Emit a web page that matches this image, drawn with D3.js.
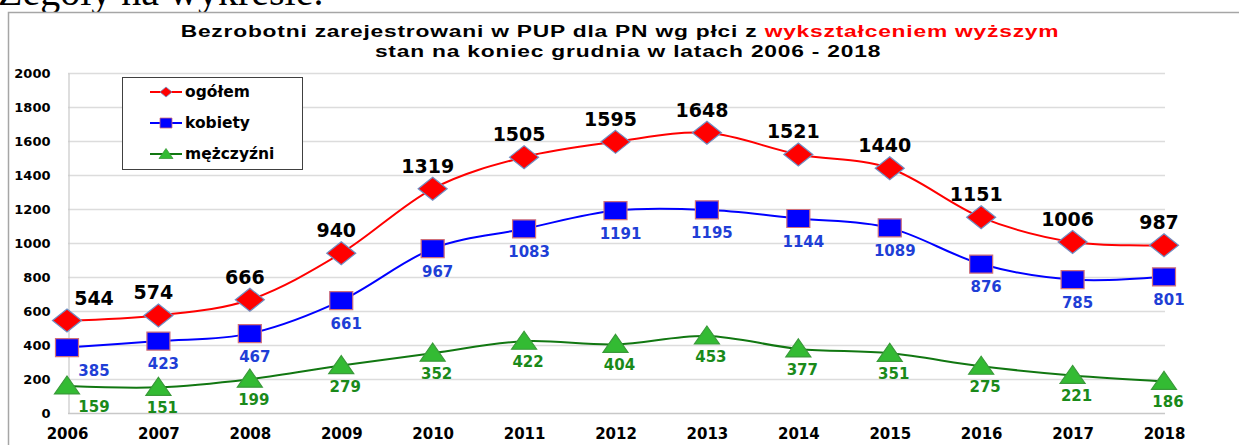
<!DOCTYPE html>
<html>
<head>
<meta charset="utf-8">
<script src="https://cdn.jsdelivr.net/npm/d3@7"></script>
<style>
  body { margin: 0; background: #fff; }
  svg { display: block; }
</style>
</head>
<body>
<svg id="chart" width="1239" height="445"></svg>
<script>
// data
const years = ['2006', '2007', '2008', '2009', '2010', '2011', '2012', '2013', '2014', '2015', '2016', '2017', '2018'];
const ogolem = [544, 574, 666, 940, 1319, 1505, 1595, 1648, 1521, 1440, 1151, 1006, 987];
const kobiety = [385, 423, 467, 661, 967, 1083, 1191, 1195, 1144, 1089, 876, 785, 801];
const mezczyzni = [159, 151, 199, 279, 352, 422, 404, 453, 377, 351, 275, 221, 186];
const yTicks = [0, 200, 400, 600, 800, 1000, 1200, 1400, 1600, 1800, 2000];
const seriesNames = ['ogółem', 'kobiety', 'mężczyźni'];

const width = 1239;
const height = 445;
const plot = { left: 67, right: 1165, top: 73, bottom: 413 };
const numFont = '"DejaVu Sans", Verdana, sans-serif';

const svg = d3.select('#chart');

// clipped text of the page above the chart
svg.append('text')
  .attr('x', -2)
  .attr('y', 5)
  .attr('font-family', '"Liberation Serif", "Times New Roman", serif')
  .attr('font-size', 40)
  .attr('fill', '#000')
  .text('Zegoły na wykresie.');

// outer chart frame (runs off the right and bottom edges)
svg.append('rect')
  .attr('x', 8.5)
  .attr('y', 12.5)
  .attr('width', 1300)
  .attr('height', 500)
  .attr('fill', '#fff')
  .attr('stroke', '#a6a6a6')
  .attr('stroke-width', 1.5);

const x = d3.scalePoint()
  .domain(years)
  .range([plot.left, plot.right - 1])
  .padding(0);

const y = d3.scaleLinear()
  .domain([0, 2000])
  .range([plot.bottom, plot.top]);

// title, stretched sideways like the source picture
const title = svg.append('text')
  .attr('transform', 'translate(620,0) scale(1.34,1)')
  .attr('text-anchor', 'middle')
  .attr('font-family', '"Liberation Sans", Arial, sans-serif')
  .attr('font-weight', 'bold')
  .attr('font-size', 17)
  .attr('letter-spacing', 0.6);
const t1 = title.append('tspan').attr('x', 0).attr('y', 37);
t1.append('tspan').attr('fill', '#000').text('Bezrobotni zarejestrowani w PUP dla PN wg płci z ');
t1.append('tspan').attr('fill', '#ff0000').text('wykształceniem wyższym');
title.append('tspan').attr('x', 6).attr('y', 57).attr('fill', '#000')
  .text('stan na koniec grudnia w latach 2006 - 2018');

// gridlines
svg.append('g')
  .selectAll('line')
  .data(yTicks)
  .join('line')
  .attr('x1', plot.left + 1)
  .attr('x2', plot.right)
  .attr('y1', d => Math.round(y(d)) + 0.5)
  .attr('y2', d => Math.round(y(d)) + 0.5)
  .attr('stroke', d => d === 0 ? '#c8c8c8' : '#dcdcdc')
  .attr('stroke-width', 1.5);

// y axis
const yAxisGroup = svg.append('g')
  .attr('transform', 'translate(' + (plot.left + 1.5) + ',0)');
const yAxis = d3.axisLeft(y)
  .tickValues(yTicks)
  .tickFormat(d3.format('d'))
  .tickSize(0)
  .tickPadding(18);
yAxis(yAxisGroup);
yAxisGroup.select('.domain').attr('stroke', '#c8c8c8').attr('stroke-width', 1.2);
yAxisGroup.selectAll('text')
  .attr('font-family', numFont)
  .attr('font-weight', 'bold')
  .attr('font-size', 13)
  .attr('fill', '#000');

// x axis labels
const xAxisGroup = svg.append('g')
  .attr('transform', 'translate(0,' + plot.bottom + ')');
const xAxis = d3.axisBottom(x).tickSize(0).tickPadding(15);
xAxis(xAxisGroup);
xAxisGroup.select('.domain').remove();
xAxisGroup.selectAll('text')
  .attr('font-family', numFont)
  .attr('font-weight', 'bold')
  .attr('font-size', 15)
  .attr('fill', '#000');

const line = d3.line()
  .x((d, i) => x(years[i]))
  .y(d => y(d))
  .curve(d3.curveCatmullRom.alpha(0));

const diamond = 'M0,-11.5L14.5,0L0,11.5L-14.5,0Z';
const square = 'M-11.5,-9L11.5,-9L11.5,9L-11.5,9Z';
const triangle = 'M0,-10L12.5,8L-12.5,8Z';

const series = [
  { name: seriesNames[0], values: ogolem, color: '#ff0000', shape: diamond, fill: '#ff0000', stroke: '#6f8fc4',
    labelColor: '#000', labelSize: 19, dy: -16, dx: -5 },
  { name: seriesNames[1], values: kobiety, color: '#0000ff', shape: square, fill: '#0000ff', stroke: '#d0707a',
    labelColor: '#1f3fd6', labelSize: 15, dy: 28, dx: 5 },
  { name: seriesNames[2], values: mezczyzni, color: '#117711', shape: triangle, fill: '#33bb33', stroke: '#3a9a3a',
    labelColor: '#1a8a1a', labelSize: 15, dy: 26, dx: 4 }
];

series.forEach(s => {
  svg.append('path')
    .datum(s.values)
    .attr('fill', 'none')
    .attr('stroke', s.color)
    .attr('stroke-width', 2)
    .attr('d', line);
});

series.forEach(s => {
  const g = svg.append('g');
  g.selectAll('path')
    .data(s.values)
    .join('path')
    .attr('d', s.shape)
    .attr('transform', (d, i) => 'translate(' + x(years[i]) + ',' + y(d) + ')')
    .attr('fill', s.fill)
    .attr('stroke', s.stroke)
    .attr('stroke-width', 1.2);
  g.selectAll('text')
    .data(s.values)
    .join('text')
    // first label is pushed right so it clears the axis
    .attr('x', (d, i) => x(years[i]) + (i === 0 ? 27 : s.dx))
    .attr('y', d => y(d) + s.dy)
    .attr('text-anchor', 'middle')
    .attr('font-family', numFont)
    .attr('font-weight', 'bold')
    .attr('font-size', s.labelSize)
    .attr('fill', s.labelColor)
    .text(d => d);
});

// legend
const legend = svg.append('g');
legend.append('rect')
  .attr('x', 122.5)
  .attr('y', 77.5)
  .attr('width', 180)
  .attr('height', 92)
  .attr('fill', '#fff')
  .attr('stroke', '#404040')
  .attr('stroke-width', 1);

const legendScale = d3.scalePoint().domain(seriesNames).range([92, 154]);
const legendShapes = {
  'ogółem': 'M0,-5L6,0L0,5L-6,0Z',
  'kobiety': 'M-6,-5L6,-5L6,5L-6,5Z',
  'mężczyźni': 'M0,-5.5L7,4.5L-7,4.5Z'
};
series.forEach(s => {
  const ly = legendScale(s.name);
  legend.append('line')
    .attr('x1', 150).attr('x2', 182)
    .attr('y1', ly).attr('y2', ly)
    .attr('stroke', s.color)
    .attr('stroke-width', 2);
  legend.append('path')
    .attr('d', legendShapes[s.name])
    .attr('transform', 'translate(166,' + ly + ')')
    .attr('fill', s.fill)
    .attr('stroke', s.stroke)
    .attr('stroke-width', 0.8);
  legend.append('text')
    .attr('x', 185)
    .attr('y', ly)
    .attr('dy', '0.35em')
    .attr('font-family', numFont)
    .attr('font-weight', 'bold')
    .attr('font-size', 15.5)
    .attr('fill', '#000')
    .text(s.name);
});
</script>
</body>
</html>
